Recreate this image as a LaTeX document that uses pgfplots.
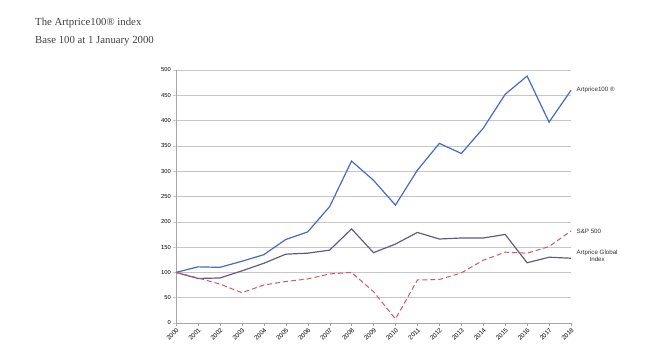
\documentclass[border=0pt]{standalone}
\usepackage{fontspec}
\usepackage{pgfplots}
\pgfplotsset{compat=1.18}
\newfontfamily\arial{Liberation Sans}
\newfontfamily\serifb{Liberation Serif}
\definecolor{artblue}{RGB}{72,104,205}
\definecolor{globalc}{RGB}{95,92,135}
\definecolor{spred}{RGB}{212,88,98}
\begin{document}
\begin{tikzpicture}[x=1bp,y=1bp]
\useasboundingbox (0,0) rectangle (668,351);
\fill[white] (0,0) rectangle (668,351);
\node[anchor=base west,font=\serifb\fontsize{10.8}{12}\selectfont,text=black!75,inner sep=0] at (35,326) {The Artprice100® index};
\node[anchor=base west,font=\serifb\fontsize{10.8}{12}\selectfont,text=black!75,inner sep=0] at (35,308) {Base 100 at 1 January 2000};
\begin{axis}[
  at={(176bp,28bp)}, anchor=south west,
  scale only axis, width=395bp, height=253bp,
  xmin=2000, xmax=2018, ymin=0, ymax=500,
  xtick={2000,...,2018}, ytick={0,50,...,500},
  x tick label style={/pgf/number format/1000 sep=, rotate=45, anchor=north east, font=\arial\fontsize{6.3}{7}\selectfont, inner sep=1pt},
  y tick label style={font=\arial\fontsize{5.8}{6.5}\selectfont, inner sep=2pt},
  /pgf/number format/assume math mode=true,
  axis x line*=bottom, axis y line*=left,
  axis line style={gray!70, line width=0.6pt},
  ymajorgrids, grid style={gray!45, line width=0.6pt},
  xtick style={gray!70}, ytick style={gray!45, line width=0.6pt},
  tick align=outside, major tick length=3bp,
  clip=false,
]
\addplot[artblue, line width=1.2pt] coordinates {
(2000,100) (2001,111) (2002,110) (2003,122) (2004,135) (2005,165) (2006,180) (2007,230) (2008,320) (2009,282) (2010,233) (2011,302) (2012,355) (2013,335) (2014,385) (2015,452) (2016,488) (2017,397) (2018,460)};
\addplot[globalc, line width=1.2pt] coordinates {
(2000,100) (2001,88) (2002,89) (2003,103) (2004,118) (2005,136) (2006,138) (2007,144) (2008,186) (2009,139) (2010,156) (2011,179) (2012,166) (2013,168) (2014,168) (2015,175) (2016,119) (2017,130) (2018,128)};
\addplot[spred, line width=1pt, dash pattern=on 5pt off 3pt] coordinates {
(2000,100) (2001,89) (2002,77) (2003,60) (2004,75) (2005,82) (2006,87) (2007,97) (2008,100) (2009,62) (2010,8) (2011,85) (2012,86) (2013,99) (2014,124) (2015,140) (2016,138) (2017,151) (2018,182)};
\node[anchor=west,font=\arial\fontsize{6.2}{7}\selectfont,text=black!80] at (axis cs:2018.1,460) {Artprice100 ®};
\node[anchor=west,font=\arial\fontsize{6.2}{7}\selectfont,text=black!80] at (axis cs:2018.1,182) {S\&P 500};
\node[anchor=west,align=center,font=\arial\fontsize{6.2}{7.2}\selectfont,text=black!80] at (axis cs:2018.1,133) {Artprice Global\\Index};
\end{axis}
\end{tikzpicture}
\end{document}
